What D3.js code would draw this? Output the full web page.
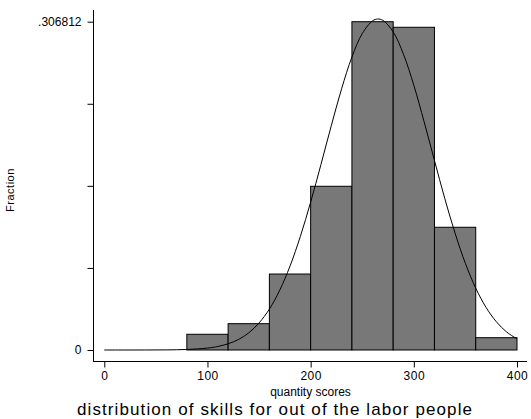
<!DOCTYPE html>
<html>
<head>
<meta charset="utf-8">
<script src="https://cdn.jsdelivr.net/npm/d3@7"></script>
<style>
  body { margin: 0; background: #fff; }
  text { font-family: "Liberation Sans", Arial, sans-serif; fill: #000; }
</style>
</head>
<body>
<svg id="chart" width="531" height="419"></svg>
<script>
// histogram bins (left edge, width 40) and fractions
const binStarts = [80, 120, 160, 200, 240, 280, 320, 360];
const binWidth = 40;
const fractions = [0.0147, 0.0246, 0.0710, 0.1530, 0.306812, 0.3016, 0.1147, 0.0115];

// overlaid normal curve
const curveX = [0, 20, 40, 60, 80, 100, 110, 120, 130, 140, 150, 160, 170, 180, 190, 200, 210, 220, 230, 240, 250,
    260, 265, 270, 280, 290, 300, 310, 320, 330, 340, 350, 360, 370, 380, 390, 400];
const curveY = [0, 0, 0.00002, 0.0001, 0.0005, 0.0018, 0.0033, 0.0058, 0.0098, 0.0160, 0.0253, 0.0382, 0.0558,
    0.0784, 0.1061, 0.1382, 0.1734, 0.2096, 0.2441, 0.2738, 0.2957, 0.3076, 0.3093, 0.3081, 0.2973, 0.2763,
    0.2474, 0.2132, 0.1771, 0.1416, 0.1091, 0.0809, 0.0578, 0.0398, 0.0264, 0.0168, 0.0104];

const xTicks = [0, 100, 200, 300, 400];
const yTicks = [0, 0.306812 / 4, 0.306812 / 2, 0.306812 * 3 / 4, 0.306812];
const yTickLabels = ["0", "", "", "", ".306812"];

const svg = d3.select("#chart");

const x = d3.scaleLinear().domain([0, 400]).range([104.3, 517]);
const y = d3.scaleLinear().domain([0, 0.306812]).range([350, 21.7]);

// bars
svg.append("g")
    .selectAll("rect")
    .data(binStarts)
    .join("rect")
    .attr("x", (d) => x(d))
    .attr("y", (d, i) => y(fractions[i]))
    .attr("width", (d) => x(d + binWidth) - x(d))
    .attr("height", (d, i) => y(0) - y(fractions[i]))
    .attr("fill", "#787878")
    .attr("stroke", "#000")
    .attr("stroke-width", 1);

// normal curve
const line = d3
    .line()
    .x((d) => x(d))
    .y((d, i) => y(curveY[i]))
    .curve(d3.curveCatmullRom);

svg.append("path")
    .datum(curveX)
    .attr("d", line)
    .attr("fill", "none")
    .attr("stroke", "#000")
    .attr("stroke-width", 1);

// axes
const yAxis = d3.axisLeft(y)
    .tickValues(yTicks)
    .tickFormat((d, i) => yTickLabels[i])
    .tickSize(6)
    .tickPadding(6);

const gy = svg.append("g")
    .attr("transform", "translate(93.5,0)")
    .call(yAxis);
gy.select(".domain").remove();
gy.append("line")
    .attr("x1", 0).attr("x2", 0)
    .attr("y1", 10).attr("y2", 362)
    .attr("stroke", "#000");
gy.selectAll("text").style("font-size", "12px").attr("fill", "#000");

const xAxis = d3.axisBottom(x)
    .tickValues(xTicks)
    .tickFormat(d3.format("d"))
    .tickSize(6)
    .tickPadding(4);

const gx = svg.append("g")
    .attr("transform", "translate(0,361.5)")
    .call(xAxis);
gx.select(".domain").remove();
gx.append("line")
    .attr("x1", 93).attr("x2", 527)
    .attr("y1", 0).attr("y2", 0)
    .attr("stroke", "#000");
gx.selectAll("text").style("font-size", "12px").style("letter-spacing", "0.5px").attr("fill", "#000");

// labels
svg.append("text")
    .attr("x", 310.5)
    .attr("y", 396)
    .attr("text-anchor", "middle")
    .style("font-size", "12px")
    .text("quantity scores");

svg.append("text")
    .attr("transform", "translate(14,190) rotate(-90)")
    .attr("text-anchor", "middle")
    .style("font-size", "11px")
    .style("letter-spacing", "0.5px")
    .text("Fraction");

svg.append("text")
    .attr("x", 77)
    .attr("y", 415)
    .attr("textLength", 395)
    .attr("lengthAdjust", "spacing")
    .style("font-size", "17px")
    .text("distribution of skills for out of the labor people");
</script>
</body>
</html>
